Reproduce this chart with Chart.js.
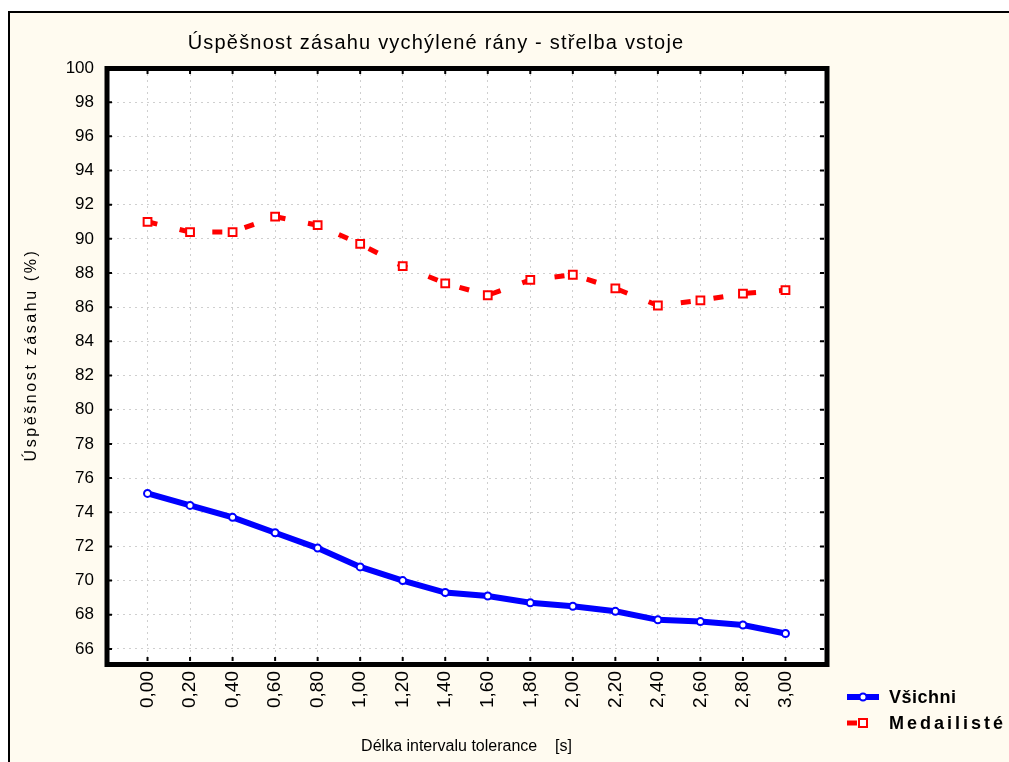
<!DOCTYPE html>
<html>
<head>
<meta charset="utf-8">
<script src="https://cdn.jsdelivr.net/npm/chart.js@4/dist/chart.umd.min.js"></script>
<style>
html, body { margin: 0; padding: 0; background: #fff; }
#wrap { width: 1009px; height: 762px; }
</style>
</head>
<body>
<div id="wrap"><canvas id="chart" width="1009" height="762"></canvas></div>
<script>
// Data
const tolerance = [0, 0.2, 0.4, 0.6, 0.8, 1.0, 1.2, 1.4, 1.6, 1.8, 2.0, 2.2, 2.4, 2.6, 2.8, 3.0];
const vsichni = [75.1, 74.4, 73.7, 72.8, 71.9, 70.8, 70.0, 69.3, 69.1, 68.7, 68.5, 68.2, 67.7, 67.6, 67.4, 66.9];
const medailiste = [91.0, 90.4, 90.4, 91.3, 90.8, 89.7, 88.4, 87.4, 86.7, 87.6, 87.9, 87.1, 86.1, 86.4, 86.8, 87.0];
const yTicks = [66, 68, 70, 72, 74, 76, 78, 80, 82, 84, 86, 88, 90, 92, 94, 96, 98, 100];

const chartTitle = 'Úspěšnost zásahu vychýlené rány - střelba vstoje';
const yTitle = 'Úspěšnost zásahu (%)';
const xTitle = 'Délka intervalu tolerance    [s]';

const FONT = "'Liberation Sans', Arial, sans-serif";

// background, frame, plot border, title, legend
const decor = {
    id: 'decor',
    beforeDraw(chart) {
        const ctx = chart.ctx;
        const a = chart.chartArea;
        ctx.save();
        ctx.fillStyle = '#ffffff';
        ctx.fillRect(0, 0, chart.width, chart.height);
        ctx.fillStyle = '#fffbf0';
        ctx.fillRect(9, 12, chart.width, chart.height);
        ctx.strokeStyle = '#000';
        ctx.lineWidth = 2;
        ctx.strokeRect(9, 12, chart.width + 10, chart.height + 10);
        ctx.fillStyle = '#ffffff';
        ctx.fillRect(a.left, a.top, a.right - a.left, a.bottom - a.top);
        ctx.restore();
    },
    afterDraw(chart) {
        const ctx = chart.ctx;
        const a = chart.chartArea;
        const xs = chart.scales.x;
        const ys = chart.scales.y;
        ctx.save();
        // plot frame
        ctx.strokeStyle = '#000';
        ctx.lineWidth = 5;
        ctx.strokeRect(a.left + 2, a.top + 0.5, a.right - a.left - 3, a.bottom - a.top - 2);
        // small inner tick marks
        ctx.lineWidth = 2;
        ctx.beginPath();
        xs.ticks.forEach(t => {
            const px = xs.getPixelForValue(t.value);
            ctx.moveTo(px, a.top + 2); ctx.lineTo(px, a.top + 6);
            ctx.moveTo(px, a.bottom - 5); ctx.lineTo(px, a.bottom - 9);
        });
        ys.ticks.forEach(t => {
            const py = ys.getPixelForValue(t.value);
            ctx.moveTo(a.left + 3, py); ctx.lineTo(a.left + 7, py);
            ctx.moveTo(a.right - 4, py); ctx.lineTo(a.right - 8, py);
        });
        ctx.stroke();

        // chart title
        ctx.fillStyle = '#000';
        ctx.textAlign = 'center';
        ctx.textBaseline = 'middle';
        ctx.font = '20px ' + FONT;
        ctx.letterSpacing = '1.2px';
        ctx.fillText(chartTitle, 436, 43);

        // y axis title
        ctx.save();
        ctx.translate(32, 355);
        ctx.rotate(-Math.PI / 2);
        ctx.font = '16px ' + FONT;
        ctx.letterSpacing = '2.6px';
        ctx.fillText(yTitle, 0, 0);
        ctx.restore();

        // legend
        const items = chart.data.datasets;
        const rows = [697, 723];
        items.forEach((ds, i) => {
            const y = rows[i];
            ctx.save();
            ctx.strokeStyle = ds.borderColor;
            ctx.lineWidth = ds.borderWidth;
            ctx.setLineDash(ds.borderDash || []);
            ctx.beginPath();
            ctx.moveTo(847, y); ctx.lineTo(879, y);
            ctx.stroke();
            ctx.setLineDash([]);
            ctx.fillStyle = '#fff';
            ctx.strokeStyle = ds.pointBorderColor;
            ctx.lineWidth = 2;
            if (ds.pointStyle === 'rect') {
                ctx.fillRect(859, y - 4, 8, 8);
                ctx.strokeRect(859, y - 4, 8, 8);
            } else {
                ctx.beginPath();
                ctx.arc(863, y, 3.5, 0, Math.PI * 2);
                ctx.fill(); ctx.stroke();
            }
            ctx.fillStyle = '#000';
            ctx.textAlign = 'left';
            ctx.textBaseline = 'middle';
            ctx.font = 'bold 18px ' + FONT;
            ctx.letterSpacing = i === 0 ? '0.5px' : '3px';
            ctx.fillText(ds.label, 889, y + 1);
            ctx.restore();
        });
        ctx.restore();
    }
};

const config = {
    type: 'line',
    data: {
        datasets: [{
            label: 'Všichni',
            data: tolerance.map((x, i) => ({ x: x, y: vsichni[i] })),
            borderColor: '#0000ff',
            borderWidth: 6,
            pointStyle: 'circle',
            pointRadius: 3.5,
            pointBorderWidth: 2,
            pointBackgroundColor: '#ffffff',
            pointBorderColor: '#0000ff',
            tension: 0
        }, {
            label: 'Medailisté',
            data: tolerance.map((x, i) => ({ x: x, y: medailiste[i] })),
            borderColor: '#ff0000',
            borderWidth: 5,
            borderDash: [10, 23],
            borderCapStyle: 'butt',
            pointStyle: 'rect',
            pointRadius: 5.5,
            pointBorderWidth: 2,
            pointBackgroundColor: '#ffffff',
            pointBorderColor: '#ff0000',
            tension: 0
        }]
    },
    options: {
        responsive: false,
        animation: false,
        layout: { padding: { left: 14, top: 68, right: 181, bottom: 0 } },
        plugins: {
            legend: { display: false },
            title: { display: false },
            tooltip: { enabled: false }
        },
        scales: {
            x: {
                type: 'linear',
                min: -0.2,
                max: 3.2,
                afterBuildTicks: s => { s.ticks = tolerance.map(v => ({ value: v })); },
                afterFit: s => { s.height = 96; },
                ticks: {
                    autoSkip: false,
                    minRotation: 90,
                    maxRotation: 90,
                    padding: 5,
                    color: '#000',
                    font: { family: FONT, size: 19 },
                    callback: v => v.toFixed(2).replace('.', ',')
                },
                grid: { color: '#cfcfcf', lineWidth: 1, drawTicks: false },
                border: { display: false, dash: [2, 4] },
                title: {
                    display: true,
                    text: xTitle,
                    color: '#000',
                    font: { family: FONT, size: 16 },
                    padding: { top: 0, bottom: 6 }
                }
            },
            y: {
                min: 65,
                max: 100,
                afterBuildTicks: s => { s.ticks = yTicks.map(v => ({ value: v })); },
                afterFit: s => { s.width = 91; },
                ticks: {
                    padding: 11,
                    color: '#000',
                    font: { family: FONT, size: 17 }
                },
                grid: { color: '#cfcfcf', lineWidth: 1, drawTicks: false },
                border: { display: false, dash: [2, 4] }
            }
        }
    },
    plugins: [decor]
};

const chart = new Chart(document.getElementById('chart'), config);
</script>
</body>
</html>
